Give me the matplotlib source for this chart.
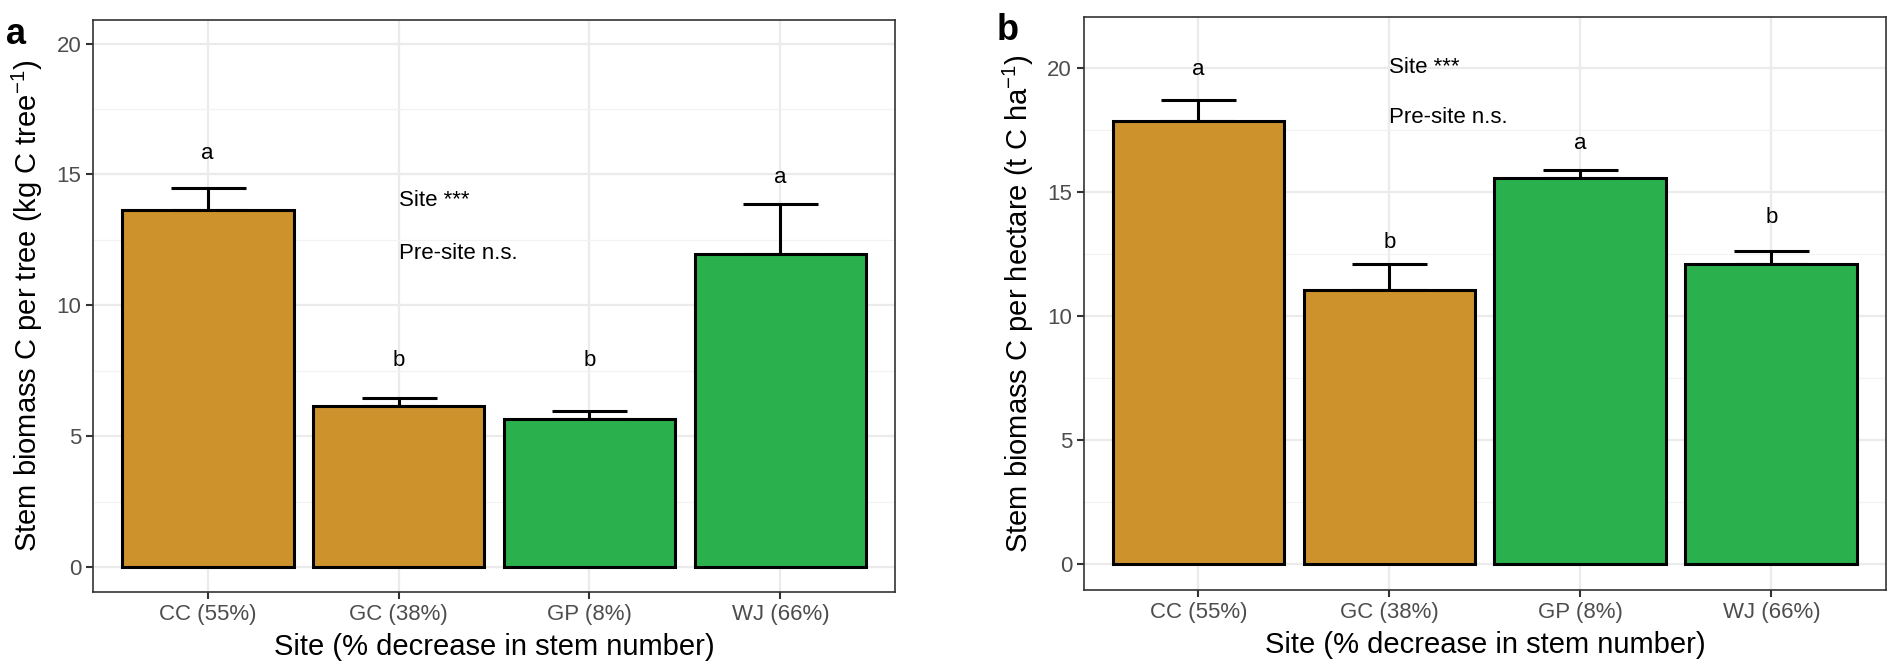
import matplotlib
matplotlib.use('Agg')
import matplotlib.pyplot as plt
from matplotlib.ticker import MultipleLocator

plt.rcParams['font.family'] = ['Liberation Sans', 'DejaVu Sans']
plt.rcParams['mathtext.fontset'] = 'custom'
plt.rcParams['mathtext.rm'] = 'Liberation Sans'
plt.rcParams['mathtext.it'] = 'Liberation Sans:italic'

# data
sites = ['CC (55%)', 'GC (38%)', 'GP (8%)', 'WJ (66%)']
bar_colors = ['#CD922C', '#CD922C', '#2AB04C', '#2AB04C']

tree_mean = [13.65, 6.16, 5.67, 11.98]
tree_se = [0.85, 0.30, 0.30, 1.91]
tree_letters = ['a', 'b', 'b', 'a']
tree_letter_y = [15.8, 7.9, 7.9, 14.9]

ha_mean = [17.86, 11.05, 15.56, 12.10]
ha_se = [0.84, 1.05, 0.34, 0.50]
ha_letters = ['a', 'b', 'a', 'b']
ha_letter_y = [19.95, 12.95, 16.97, 13.95]

tree_stats = ['Site ***', 'Pre-site n.s.']
tree_stats_y = [14.0, 12.0]
ha_stats = ['Site ***', 'Pre-site n.s.']
ha_stats_y = [20.0, 18.0]

fig = plt.figure(figsize=(18.91, 6.70), dpi=100)
ax1 = fig.add_axes([0.0492, 0.1164, 0.4241, 0.8537])
ax2 = fig.add_axes([0.5732, 0.1194, 0.4241, 0.8552])


def draw_panel(ax, means, ses, letters, letter_y, stats, stats_y, ylabel, ylim):
    x = list(range(len(sites)))
    ax.bar(x, means, width=0.9, color=bar_colors, edgecolor='black',
           linewidth=2.2, zorder=3)
    # only the upper half of the error bar is visible
    ax.errorbar(x, means, yerr=[[0] * len(ses), ses], fmt='none',
                ecolor='black', elinewidth=2.2, capsize=27, capthick=2.2,
                zorder=2)
    for xi, lab, ly in zip(x, letters, letter_y):
        ax.text(xi, ly, lab, ha='center', va='center', fontsize=16)
    for txt, sy in zip(stats, stats_y):
        ax.text(1.0, sy, txt, ha='left', va='center', fontsize=16)

    ax.set_xlim(-0.6, 3.6)
    ax.set_ylim(*ylim)
    ax.set_xticks(x)
    ax.set_xticklabels(sites)
    ax.yaxis.set_major_locator(MultipleLocator(5))
    ax.yaxis.set_minor_locator(MultipleLocator(2.5))
    ax.grid(which='major', color='#EBEBEB', linewidth=1.6, zorder=0)
    ax.grid(which='minor', axis='y', color='#F2F2F2', linewidth=0.9, zorder=0)
    ax.set_axisbelow(True)
    ax.tick_params(axis='both', which='major', labelsize=16, colors='#333333',
                   labelcolor='#4D4D4D', length=5, width=1.5)
    ax.tick_params(axis='y', which='minor', length=0)
    for s in ax.spines.values():
        s.set_color('#333333')
        s.set_linewidth(1.2)
    ax.set_xlabel('Site (% decrease in stem number)', fontsize=21, labelpad=6)
    ax.set_ylabel(ylabel, fontsize=21, labelpad=8)


draw_panel(ax1, tree_mean, tree_se, tree_letters, tree_letter_y,
           tree_stats, tree_stats_y,
           'Stem biomass C per tree (kg C tree$^{-1}$)', (-0.95, 20.9))
draw_panel(ax2, ha_mean, ha_se, ha_letters, ha_letter_y,
           ha_stats, ha_stats_y,
           'Stem biomass C per hectare (t C ha$^{-1}$)', (-1.05, 22.05))

fig.text(0.003, 0.935, 'a', fontsize=26, fontweight='bold', ha='left')
fig.text(0.527, 0.94, 'b', fontsize=26, fontweight='bold', ha='left')

fig.savefig('out.png', dpi=100)
